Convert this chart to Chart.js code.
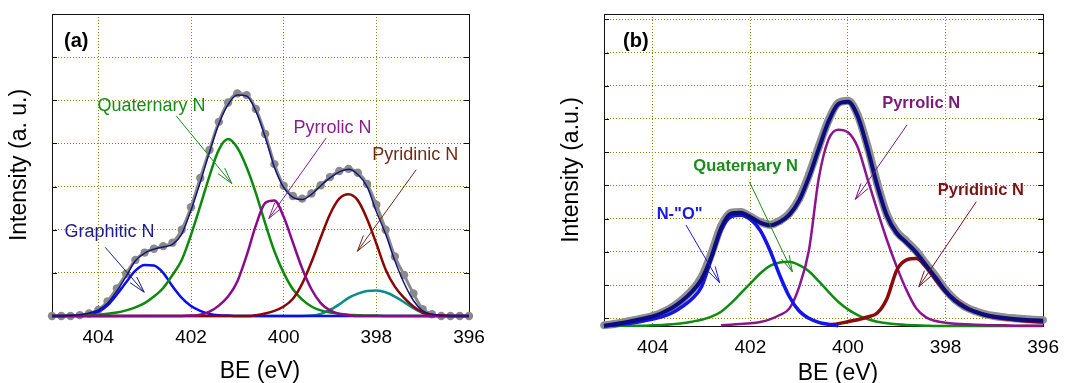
<!DOCTYPE html>
<html>
<head>
<meta charset="utf-8">
<script src="https://cdn.jsdelivr.net/npm/chart.js@4.4.1/dist/chart.umd.min.js"></script>
<style>
  html, body { margin: 0; padding: 0; background: #fff; }
  body { width: 1069px; height: 383px; position: relative; overflow: hidden; }
  #panelA { position: absolute; left: 0; top: 0; width: 540px; height: 383px; }
  #panelB { position: absolute; left: 540px; top: 0; width: 529px; height: 383px; }
</style>
</head>
<body>
<canvas id="panelA" width="540" height="383"></canvas>
<canvas id="panelB" width="529" height="383"></canvas>
<script>
// binding energy grid (eV), shared by both panels
const be = [405.0, 404.8, 404.6, 404.4, 404.2, 404.0, 403.8, 403.6, 403.4, 403.2,
            403.0, 402.8, 402.6, 402.4, 402.2, 402.0, 401.8, 401.6, 401.4, 401.2,
            401.0, 400.8, 400.6, 400.4, 400.2, 400.0, 399.8, 399.6, 399.4, 399.2,
            399.0, 398.8, 398.6, 398.4, 398.2, 398.0, 397.8, 397.6, 397.4, 397.2,
            397.0, 396.8, 396.6, 396.4, 396.2, 396.0];

const xTicks = [404, 402, 400, 398, 396];
const yTicksA = [0, 1, 2, 3, 4, 5, 6, 7];
const yTicksB = [0, 1, 2, 3, 4, 5, 6, 7, 8, 9];

// panel (a)
const measA = [0.00, 0.00, 0.00, 0.02, 0.06, 0.14, 0.34, 0.64, 0.98, 1.30,
               1.47, 1.56, 1.62, 1.70, 2.00, 2.52, 3.20, 3.85, 4.50, 4.95,
               5.16, 5.12, 4.80, 4.22, 3.52, 3.02, 2.78, 2.72, 2.84, 3.03,
               3.22, 3.36, 3.41, 3.32, 3.06, 2.58, 2.00, 1.38, 0.95, 0.52,
               0.16, 0.04, 0.00, 0.00, 0.00, 0.00];
const fitA = [0.00, 0.00, 0.01, 0.03, 0.07, 0.14, 0.30, 0.58, 0.92, 1.28,
              1.46, 1.55, 1.60, 1.66, 1.90, 2.45, 3.10, 3.80, 4.45, 4.90,
              5.12, 5.10, 4.75, 4.15, 3.45, 2.98, 2.75, 2.70, 2.82, 3.02,
              3.20, 3.34, 3.40, 3.28, 3.00, 2.42, 1.90, 1.28, 0.76, 0.36,
              0.12, 0.04, 0.01, 0.00, 0.00, 0.00];
const graphiticA = [0, 0, 0.01, 0.02, 0.04, 0.10, 0.25, 0.50, 0.78, 1.05,
                    1.18, 1.17, 1.00, 0.69, 0.42, 0.23, 0.12, 0.05, 0.02, 0.01,
                    0, 0, 0, 0, 0, 0, 0, 0, 0, 0,
                    0, 0, 0, 0, 0, 0, 0, 0, 0, 0,
                    0, 0, 0, 0, 0, 0];
const quaternaryA = [0, 0, 0.01, 0.01, 0.02, 0.03, 0.05, 0.08, 0.13, 0.20,
                     0.30, 0.45, 0.65, 0.95, 1.30, 1.88, 2.55, 3.25, 3.85, 4.10,
                     3.90, 3.45, 2.85, 2.15, 1.50, 1.00, 0.62, 0.38, 0.22, 0.13,
                     0.08, 0.05, 0.03, 0.02, 0.01, 0.01, 0, 0, 0, 0,
                     0, 0, 0, 0, 0, 0];
const pyrrolicA = [0, 0, 0, 0, 0, 0, 0, 0, 0, 0,
                   0, 0, 0, 0, 0, 0.01, 0.03, 0.10, 0.24, 0.45,
                   0.80, 1.40, 2.10, 2.62, 2.68, 2.30, 1.70, 1.10, 0.62, 0.30,
                   0.13, 0.05, 0.02, 0, 0, 0, 0, 0, 0, 0,
                   0, 0, 0, 0, 0, 0];
const pyridinicA = [0, 0, 0, 0, 0, 0, 0, 0, 0, 0,
                    0, 0, 0, 0, 0, 0, 0, 0, 0, 0,
                    0, 0, 0.02, 0.06, 0.12, 0.22, 0.40, 0.75, 1.25, 1.82,
                    2.36, 2.72, 2.82, 2.68, 2.25, 1.68, 1.08, 0.68, 0.42, 0.22,
                    0.08, 0.03, 0.01, 0, 0, 0];
const fifthA = [0, 0, 0, 0, 0, 0, 0, 0, 0, 0,
                0, 0, 0, 0, 0, 0, 0, 0, 0, 0,
                0, 0, 0, 0, 0, 0, 0, 0, 0.01, 0.05,
                0.14, 0.27, 0.42, 0.52, 0.58, 0.59, 0.55, 0.45, 0.32, 0.18,
                0.07, 0.02, 0, 0, 0, 0];

// panel (b)
const measB = [-0.21, -0.17, -0.12, -0.06, 0.00, 0.07, 0.18, 0.34, 0.56, 0.84,
               1.24, 1.95, 2.78, 3.18, 3.20, 3.06, 2.90, 2.82, 2.93, 3.16,
               3.60, 4.32, 5.16, 5.96, 6.48, 6.55, 6.12, 5.18, 4.06, 3.12,
               2.60, 2.32, 2.02, 1.64, 1.26, 0.86, 0.55, 0.35, 0.22, 0.13,
               0.07, 0.03, 0.00, -0.02, -0.04, -0.05];
const fitB = [-0.22, -0.18, -0.13, -0.07, -0.01, 0.06, 0.17, 0.32, 0.53, 0.80,
              1.18, 1.85, 2.72, 3.15, 3.18, 3.05, 2.88, 2.80, 2.90, 3.12,
              3.55, 4.25, 5.10, 5.92, 6.45, 6.52, 6.08, 5.12, 4.00, 3.08,
              2.56, 2.28, 1.98, 1.60, 1.22, 0.82, 0.52, 0.33, 0.20, 0.11,
              0.05, 0.01, -0.02, -0.04, -0.06, -0.07];
const noB = [-0.23, -0.20, -0.17, -0.13, -0.08, -0.02, 0.05, 0.17, 0.35, 0.58,
             0.95, 1.80, 2.65, 3.05, 3.10, 2.98, 2.65, 2.05, 1.30, 0.65,
             0.22, 0.00, -0.12, -0.18, -0.22, null, null, null, null, null,
             null, null, null, null, null, null, null, null, null, null,
             null, null, null, null, null, null];
const quaternaryB = [-0.23, -0.23, -0.22, -0.22, -0.22, -0.21, -0.20, -0.18, -0.15, -0.10,
                     -0.04, 0.05, 0.20, 0.45, 0.75, 1.05, 1.35, 1.58, 1.68, 1.70,
                     1.60, 1.42, 1.12, 0.80, 0.50, 0.27, 0.10, -0.02, -0.10, -0.15,
                     -0.18, -0.20, -0.21, -0.22, -0.23, -0.23, -0.23, -0.23, -0.23, -0.23,
                     -0.23, -0.23, -0.23, -0.23, -0.23, -0.23];
const pyrrolicB = [null, null, null, null, null, null, null, null, null, null,
                   null, null, -0.21, -0.19, -0.17, -0.15, -0.11, -0.03, 0.10, 0.30,
                   0.95, 2.05, 4.20, 5.38, 5.68, 5.60, 5.15, 4.20, 3.25, 2.35,
                   1.55, 0.85, 0.30, 0.03, -0.08, -0.13, -0.16, -0.18, -0.19, -0.20,
                   -0.21, -0.21, -0.22, -0.22, -0.22, -0.22];
const pyridinicB = [null, null, null, null, null, null, null, null, null, null,
                    null, null, null, null, null, null, null, null, null, null,
                    null, null, null, -0.20, -0.16, -0.10, -0.04, 0.04, 0.16, 0.60,
                    1.45, 1.76, 1.80, 1.55, 1.16, 0.80, 0.55, 0.35, 0.20, 0.10,
                    0.03, -0.01, -0.04, -0.07, -0.09, -0.11];

const FONT = "'Liberation Sans', Arial, sans-serif";
Chart.defaults.font.family = FONT;

function pts(vals) {
  return be.map((x, i) => ({ x: x, y: vals[i] }));
}

function curve(vals, color, width) {
  return {
    data: pts(vals),
    borderColor: color,
    borderWidth: width,
    pointRadius: 0,
    cubicInterpolationMode: 'monotone',
    spanGaps: false,
    clip: 4
  };
}

// measured points: gray markers joined by a gray band underneath
function dots(vals, color, r, band) {
  return {
    data: pts(vals),
    showLine: band > 0,
    borderColor: color,
    borderWidth: band,
    cubicInterpolationMode: 'monotone',
    pointRadius: r,
    pointBackgroundColor: color,
    pointBorderWidth: 0,
    clip: 8
  };
}

function arrow(ctx, x0, y0, x1, y1) {
  const ang = Math.atan2(y1 - y0, x1 - x0);
  ctx.beginPath();
  ctx.moveTo(x0, y0);
  ctx.lineTo(x1, y1);
  [-0.26, 0.26].forEach(d => {
    ctx.moveTo(x1, y1);
    ctx.lineTo(x1 - 17 * Math.cos(ang + d), y1 - 17 * Math.sin(ang + d));
  });
  ctx.stroke();
}

// frame, inward ticks, labels, arrows and axis titles
function decorate(cfg) {
  return {
    id: 'decorate',
    beforeDatasetsDraw(chart) {
      const { ctx, chartArea: a, scales: { y } } = chart;
      ctx.save();
      ctx.strokeStyle = '#111';
      ctx.lineWidth = 1;
      y.ticks.forEach(t => {
        const py = Math.round(y.getPixelForValue(t.value)) + 0.5;
        ctx.beginPath();
        ctx.moveTo(a.left, py); ctx.lineTo(a.left + 5, py);
        ctx.moveTo(a.right, py); ctx.lineTo(a.right - 5, py);
        ctx.stroke();
      });
      ctx.strokeRect(Math.round(a.left) + 0.5, Math.round(a.top) + 0.5,
                     Math.round(a.width), Math.round(a.height));
      ctx.restore();
    },
    afterDatasetsDraw(chart) {
      const { ctx, scales: { x, y } } = chart;
      ctx.save();
      ctx.textBaseline = 'middle';
      ctx.textAlign = 'left';
      cfg.notes.forEach(n => {
        ctx.font = cfg.noteFont;
        ctx.fillStyle = n.color;
        ctx.fillText(n.text, x.getPixelForValue(n.at[0]), y.getPixelForValue(n.at[1]));
        ctx.strokeStyle = n.color;
        ctx.lineWidth = 1;
        arrow(ctx, x.getPixelForValue(n.from[0]), y.getPixelForValue(n.from[1]),
                   x.getPixelForValue(n.to[0]), y.getPixelForValue(n.to[1]));
      });
      ctx.restore();
    },
    afterDraw(chart) {
      const ctx = chart.ctx;
      ctx.save();
      ctx.fillStyle = '#000';
      ctx.textBaseline = 'middle';
      ctx.font = 'bold 20px ' + FONT;
      ctx.textAlign = 'left';
      ctx.fillText(cfg.tag, cfg.tagAt[0], cfg.tagAt[1]);
      ctx.font = '23px ' + FONT;
      ctx.textAlign = 'center';
      ctx.fillText('BE (eV)', cfg.xTitleAt[0], cfg.xTitleAt[1]);
      ctx.translate(cfg.yTitleAt[0], cfg.yTitleAt[1]);
      ctx.rotate(-Math.PI / 2);
      ctx.fillText(cfg.yTitle, 0, 0);
      ctx.restore();
    }
  };
}

function makeChart(id, datasets, yMin, yMax, yTicks, pad, yWidth, xHeight, deco) {
  return new Chart(document.getElementById(id), {
    type: 'line',
    data: { datasets: datasets },
    options: {
      responsive: false,
      animation: false,
      events: [],
      layout: { padding: pad },
      plugins: { legend: { display: false }, tooltip: { enabled: false } },
      scales: {
        x: {
          type: 'linear',
          reverse: true,
          min: 396,
          max: 405,
          afterBuildTicks: s => { s.ticks = xTicks.map(v => ({ value: v })); },
          afterFit: s => { s.height = xHeight; },
          ticks: { color: '#000', font: { size: 19 }, padding: 10, maxRotation: 0, autoSkip: false },
          grid: {
            color: c => (c.tick && c.tick.value === 396 ? 'rgba(0,0,0,0)' : '#8a8a00'),
            lineWidth: 1,
            drawTicks: false
          },
          border: { display: false, dash: [1, 2] }
        },
        y: {
          type: 'linear',
          min: yMin,
          max: yMax,
          afterBuildTicks: s => { s.ticks = yTicks.map(v => ({ value: v })); },
          afterFit: s => { s.width = yWidth; },
          ticks: { display: false },
          grid: { color: '#8a8a00', lineWidth: 1, drawTicks: false },
          border: { display: false, dash: [1, 2] }
        }
      }
    },
    plugins: [decorate(deco)]
  });
}

makeChart('panelA', [
  curve(fitA, '#14147e', 1.5),
  curve(pyrrolicA, '#8b0a8b', 2.5),
  curve(pyridinicA, '#8b0505', 2.5),
  curve(quaternaryA, '#0d8a0d', 2.5),
  curve(graphiticA, '#0a0aff', 2.5),
  curve(fifthA, '#0a8c8c', 2.5),
  dots(measA, '#8a8a8a', 4.2, 3)
], 0, 7, yTicksA, { top: 14, right: 71, left: 0, bottom: 0 }, 52, 67, {
  tag: '(a)', tagAt: [64, 41],
  xTitleAt: [260, 372], yTitleAt: [20, 165], yTitle: 'Intensity (a. u.)',
  noteFont: '18px ' + FONT,
  notes: [
    { text: 'Graphitic N', color: '#1c1c8c', at: [404.73, 1.94], from: [403.85, 1.59], to: [403.01, 0.55] },
    { text: 'Quaternary N', color: '#168c16', at: [404.02, 4.87], from: [402.32, 4.64], to: [401.12, 3.07] },
    { text: 'Pyrrolic N', color: '#8c1c8c', at: [399.79, 4.36], from: [399.08, 4.13], to: [400.32, 2.26] },
    { text: 'Pyridinic N', color: '#6e2a14', at: [398.09, 3.72], from: [397.14, 3.39], to: [398.41, 1.50] }
  ]
});

makeChart('panelB', [
  curve(fitB, '#0c0c80', 4),
  curve(noB, '#1414f0', 3.5),
  curve(pyridinicB, '#8c0a0a', 3.5),
  curve(pyrrolicB, '#8c148c', 2.5),
  curve(quaternaryB, '#108c10', 2.5),
  dots(measB, '#8f8f8f', 3.8, 8)
], -0.23, 9.16, yTicksB, { top: 14, right: 22, left: 0, bottom: 0 }, 64, 57, {
  tag: '(b)', tagAt: [83, 41],
  xTitleAt: [298, 374], yTitleAt: [32, 170], yTitle: 'Intensity (a.u.)',
  noteFont: 'bold 16.5px ' + FONT,
  notes: [
    { text: 'N-"O"', color: '#1a1ae0', at: [403.92, 3.13], from: [403.32, 2.81], to: [402.63, 1.07] },
    { text: 'Quaternary N', color: '#1a8c1a', at: [403.17, 4.58], from: [402.02, 4.11], to: [401.14, 1.40] },
    { text: 'Pyrrolic N', color: '#7a1a7a', at: [399.30, 6.48], from: [398.79, 5.82], to: [399.85, 3.58] },
    { text: 'Pyridinic N', color: '#781414', at: [398.16, 3.86], from: [397.37, 3.51], to: [398.55, 0.95] }
  ]
});
</script>
</body>
</html>
